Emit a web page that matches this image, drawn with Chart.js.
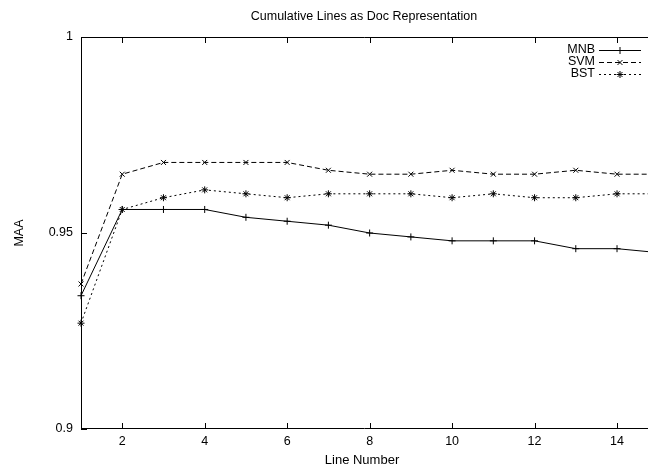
<!DOCTYPE html>
<html>
<head>
<meta charset="utf-8">
<script src="https://cdn.jsdelivr.net/npm/chart.js@4"></script>
<style>
  html, body { margin: 0; padding: 0; background: #fff; }
  #wrap { width: 648px; height: 468px; }
</style>
</head>
<body>
<div id="wrap"><canvas id="c"></canvas></div>
<script>
// data
const lineNumbers = [1, 2, 3, 4, 5, 6, 7, 8, 9, 10, 11, 12, 13, 14, 15];
const mnb = [0.934, 0.956, 0.956, 0.956, 0.954, 0.953, 0.952, 0.950, 0.949, 0.948, 0.948, 0.948, 0.946, 0.946, 0.945];
const svm = [0.937, 0.965, 0.968, 0.968, 0.968, 0.968, 0.966, 0.965, 0.965, 0.966, 0.965, 0.965, 0.966, 0.965, 0.965];
const bst = [0.927, 0.956, 0.959, 0.961, 0.960, 0.959, 0.960, 0.960, 0.960, 0.959, 0.960, 0.959, 0.959, 0.960, 0.960];
const xTicks = [2, 4, 6, 8, 10, 12, 14];
const yTicks = [0.9, 0.95, 1];

const FONT = "'Liberation Sans', Arial, sans-serif";

function pts(ys) {
  return lineNumbers.map((x, i) => ({ x: x, y: ys[i] }));
}

const series = [
  { label: 'MNB', data: mnb, style: 'cross', dash: [] },
  { label: 'SVM', data: svm, style: 'crossRot', dash: [5, 3] },
  { label: 'BST', data: bst, style: 'star', dash: [2, 3] }
];

// border, inward ticks, title and legend in gnuplot style
const gnuplotDecor = {
  id: 'gnuplotDecor',
  afterDraw(chart) {
    const ctx = chart.ctx;
    const a = chart.chartArea;
    const xs = chart.scales.x, ys = chart.scales.y;
    ctx.save();
    ctx.strokeStyle = '#000';
    ctx.lineWidth = 1;
    ctx.setLineDash([]);
    ctx.beginPath();
    ctx.moveTo(a.left + 0.5, a.top + 0.5);
    ctx.lineTo(chart.width, a.top + 0.5);
    ctx.moveTo(a.left, Math.round(a.bottom) - 0.5);
    ctx.lineTo(chart.width, Math.round(a.bottom) - 0.5);
    ctx.stroke();
    const tl = 6;
    ctx.beginPath();
    xTicks.forEach(v => {
      const px = Math.round(xs.getPixelForValue(v)) + 0.5;
      ctx.moveTo(px, a.bottom); ctx.lineTo(px, a.bottom - tl);
      ctx.moveTo(px, a.top); ctx.lineTo(px, a.top + tl);
    });
    yTicks.forEach(v => {
      const py = Math.round(ys.getPixelForValue(v)) + 0.5;
      ctx.moveTo(a.left, py); ctx.lineTo(a.left + tl, py);
    });
    ctx.stroke();

    // title
    ctx.fillStyle = '#000';
    ctx.font = '12.5px ' + FONT;
    ctx.textAlign = 'center';
    ctx.textBaseline = 'middle';
    ctx.fillText('Cumulative Lines as Doc Representation', 364, 17);

    // legend
    ctx.font = '12.5px ' + FONT;
    series.forEach((s, i) => {
      const y = 49.5 + i * 12;
      ctx.textAlign = 'right';
      ctx.fillText(s.label, 595, y + 0.5);
      ctx.beginPath();
      ctx.setLineDash(s.dash);
      ctx.moveTo(599, Math.round(y) + 0.5); ctx.lineTo(641, Math.round(y) + 0.5);
      ctx.stroke();
      ctx.setLineDash([]);
      Chart.helpers.drawPoint(ctx, { pointStyle: s.style, radius: 3.5, rotation: 0, borderWidth: 1 }, 620, Math.round(y) + 0.5);
    });
    ctx.restore();
  }
};

new Chart(document.getElementById('c'), {
  type: 'line',
  data: {
    datasets: series.map(s => ({
      label: s.label,
      data: pts(s.data),
      borderColor: '#000',
      backgroundColor: '#000',
      borderWidth: 1,
      borderDash: s.dash,
      pointStyle: s.style,
      pointRadius: 3.5,
      pointBorderWidth: 1,
      pointBorderColor: '#000',
      tension: 0,
      clip: false
    }))
  },
  options: {
    responsive: true,
    maintainAspectRatio: false,
    animation: false,
    events: [],
    layout: { padding: { top: 37, right: 0, left: 0, bottom: 0 } },
    plugins: {
      legend: { display: false },
      title: { display: false },
      tooltip: { enabled: false }
    },
    scales: {
      x: {
        type: 'linear',
        min: 1,
        max: 14.63,
        afterBuildTicks: (s) => { s.ticks = xTicks.map(v => ({ value: v })); },
        afterFit: (s) => { s.height = 39; },
        grid: { display: false, drawTicks: false },
        border: { display: false },
        ticks: { color: '#000', padding: 5, maxRotation: 0, font: { family: FONT, size: 12.5 } },
        title: { display: true, text: 'Line Number', color: '#000', padding: { top: 0, bottom: 0 }, font: { family: FONT, size: 13 } }
      },
      y: {
        type: 'linear',
        min: 0.9,
        max: 1,
        afterBuildTicks: (s) => { s.ticks = yTicks.map(v => ({ value: v })); },
        afterFit: (s) => { s.width = 81; },
        grid: { display: false, drawTicks: false },
        border: { display: true, color: '#000', width: 1 },
        ticks: { color: '#000', padding: 8, font: { family: FONT, size: 12.5 }, callback: (v) => String(v) },
        title: { display: true, text: 'MAA', color: '#000', padding: { top: 12, bottom: 0 }, font: { family: FONT, size: 12.5 } }
      }
    }
  },
  plugins: [gnuplotDecor]
});
</script>
</body>
</html>
